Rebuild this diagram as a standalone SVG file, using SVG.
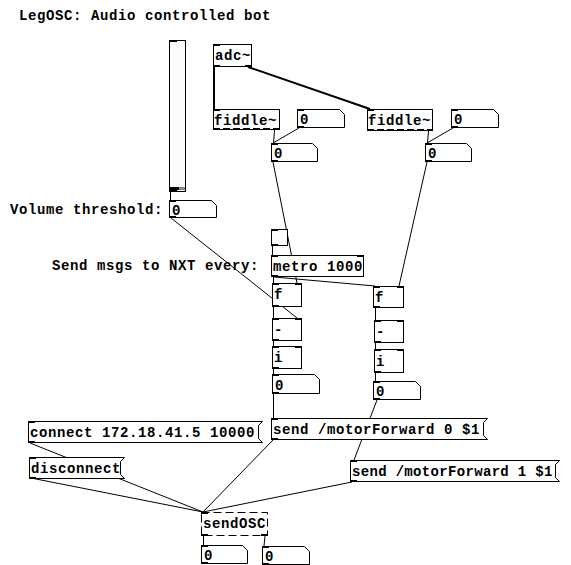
<svg xmlns="http://www.w3.org/2000/svg" width="571" height="565" viewBox="0 0 571 565">
<style>
.t{font-family:"Liberation Mono","DejaVu Sans Mono",monospace;font-weight:bold;font-size:14px;letter-spacing:0.6px;fill:#000}
.b{fill:#fff;stroke:#000;stroke-width:1}
.d{fill:#fff;stroke:#000;stroke-width:1;stroke-dasharray:8,4}
.io{fill:#000}
.c{stroke:#000;stroke-width:1;fill:none}
.s{stroke:#000;stroke-width:2;fill:none}
.fo{stroke:#000;stroke-width:2;stroke-dasharray:7,3;fill:none}
</style>
<rect width="571" height="565" fill="#fff"/>
<g id="connectors">
<line class="s" x1="214" y1="67" x2="214" y2="109"/>
<line class="s" x1="248" y1="67" x2="370" y2="109"/>
<line class="c" x1="274.5" y1="130" x2="273.5" y2="143"/>
<line class="c" x1="299" y1="128" x2="273" y2="143"/>
<line class="c" x1="428.5" y1="131" x2="427.5" y2="143"/>
<line class="c" x1="453" y1="128" x2="427" y2="143"/>
<line class="c" x1="273" y1="162" x2="297" y2="283"/>
<line class="c" x1="427" y1="162" x2="399" y2="286"/>
<line class="c" x1="171" y1="218" x2="297" y2="318"/>
<line class="c" x1="170.5" y1="192" x2="170.5" y2="200"/>
<line class="c" x1="272.5" y1="246" x2="272.5" y2="255"/>
<line class="c" x1="273.5" y1="277" x2="273.5" y2="283"/>
<line class="c" x1="274" y1="277" x2="375" y2="286"/>
<line class="c" x1="273.5" y1="307" x2="273.5" y2="318"/>
<line class="c" x1="273.5" y1="341" x2="273.5" y2="346"/>
<line class="c" x1="273.5" y1="369" x2="273.5" y2="374"/>
<line class="c" x1="273.5" y1="394" x2="273.5" y2="418"/>
<line class="c" x1="375.5" y1="308" x2="375.5" y2="320"/>
<line class="c" x1="375.5" y1="343" x2="375.5" y2="349"/>
<line class="c" x1="375.5" y1="373" x2="375.5" y2="381"/>
<line class="c" x1="377" y1="400" x2="354" y2="460"/>
<line class="c" x1="30" y1="443" x2="203" y2="512"/>
<line class="c" x1="31" y1="478" x2="203" y2="512"/>
<line class="c" x1="273" y1="440" x2="203" y2="512"/>
<line class="c" x1="352" y1="482" x2="203" y2="512"/>
<line class="c" x1="203.5" y1="536" x2="203.5" y2="545"/>
<line class="c" x1="265" y1="536" x2="264" y2="546"/>
</g>
<g id="title"><text class="t" x="19" y="20">LegOSC: Audio controlled bot</text></g>
<g id="slider">
<rect x="169.5" y="40.5" width="16" height="151" fill="#fcfcfc" stroke="#000"/>
<rect class="io" x="169" y="40" width="8" height="2"/>
<rect class="io" x="170" y="187" width="9" height="3"/>
<rect x="179" y="187" width="6" height="3" fill="#888"/>
<rect class="io" x="169" y="190" width="8" height="2"/>
</g>
<g id="vol_label"><text class="t" x="10" y="214">Volume threshold:</text></g>
<g id="vol_num">
<path class="b" d="M169.5 200.5H211.5L216.5 205.5V217.5H169.5Z"/>
<rect class="io" x="169" y="200" width="7" height="2"/><rect class="io" x="169" y="216" width="7" height="2"/>
<text class="t" x="172" y="215">0</text>
</g>
<g id="adc">
<rect class="b" x="213.5" y="44.5" width="38" height="22"/>
<rect class="io" x="213" y="44" width="7" height="2"/>
<rect class="io" x="213" y="65" width="7" height="2"/><rect class="io" x="245" y="65" width="7" height="2"/>
<text class="t" x="215" y="60">adc~</text>
</g>
<g id="fiddle1">
<rect class="b" x="213.5" y="109.5" width="66" height="20"/>
<rect class="io" x="213" y="109" width="7" height="2"/>
<line class="fo" x1="213" y1="129" x2="280" y2="129"/>
<text class="t" x="214" y="125">fiddle~</text>
</g>
<g id="num_f1a">
<path class="b" d="M297.5 109.5H339.5L344.5 114.5V127.5H297.5Z"/>
<rect class="io" x="297" y="109" width="7" height="2"/><rect class="io" x="297" y="126" width="7" height="2"/>
<text class="t" x="300" y="124">0</text>
</g>
<g id="num_f1b">
<path class="b" d="M271.5 143.5H312.5L317.5 148.5V161.5H271.5Z"/>
<rect class="io" x="271" y="143" width="7" height="2"/><rect class="io" x="271" y="160" width="7" height="2"/>
<text class="t" x="274" y="158">0</text>
</g>
<g id="fiddle2">
<rect class="b" x="367.5" y="109.5" width="65" height="21"/>
<rect class="io" x="367" y="109" width="7" height="2"/>
<line class="fo" x1="367" y1="130" x2="433" y2="130"/>
<text class="t" x="368" y="125">fiddle~</text>
</g>
<g id="num_f2a">
<path class="b" d="M451.5 109.5H493.5L498.5 114.5V127.5H451.5Z"/>
<rect class="io" x="451" y="109" width="7" height="2"/><rect class="io" x="451" y="126" width="7" height="2"/>
<text class="t" x="454" y="124">0</text>
</g>
<g id="num_f2b">
<path class="b" d="M425.5 143.5H466.5L471.5 148.5V161.5H425.5Z"/>
<rect class="io" x="425" y="143" width="7" height="2"/><rect class="io" x="425" y="160" width="7" height="2"/>
<text class="t" x="428" y="158">0</text>
</g>
<g id="toggle">
<rect x="271.5" y="229.5" width="16" height="16" fill="#fcfcfc" stroke="#000"/>
<rect class="io" x="271" y="229" width="7" height="2"/><rect class="io" x="271" y="244" width="7" height="2"/>
</g>
<g id="metro_label"><text class="t" x="52" y="270">Send msgs to NXT every:</text></g>
<g id="metro">
<rect class="b" x="271.5" y="255.5" width="92" height="21"/>
<rect class="io" x="271" y="255" width="7" height="2"/><rect class="io" x="357" y="255" width="7" height="2"/>
<rect class="io" x="271" y="275" width="7" height="2"/>
<text class="t" x="273" y="271">metro 1000</text>
</g>
<g id="f1">
<rect class="b" x="272.5" y="283.5" width="29" height="23"/>
<rect class="io" x="272" y="283" width="7" height="2"/><rect class="io" x="295" y="283" width="7" height="2"/>
<rect class="io" x="272" y="305" width="7" height="2"/>
<text class="t" x="274" y="299">f</text>
</g>
<g id="minus1">
<rect class="b" x="272.5" y="318.5" width="29" height="22"/>
<rect class="io" x="272" y="318" width="7" height="2"/><rect class="io" x="295" y="318" width="7" height="2"/>
<rect class="io" x="272" y="339" width="7" height="2"/>
<text class="t" x="274" y="334">-</text>
</g>
<g id="i1">
<rect class="b" x="272.5" y="346.5" width="29" height="22"/>
<rect class="io" x="272" y="346" width="7" height="2"/><rect class="io" x="295" y="346" width="7" height="2"/>
<rect class="io" x="272" y="367" width="7" height="2"/>
<text class="t" x="274" y="362">i</text>
</g>
<g id="num1">
<path class="b" d="M272.5 374.5H314.5L319.5 379.5V393.5H272.5Z"/>
<rect class="io" x="272" y="374" width="7" height="2"/><rect class="io" x="272" y="392" width="7" height="2"/>
<text class="t" x="275" y="390">0</text>
</g>
<g id="f2">
<rect class="b" x="373.5" y="286.5" width="30" height="21"/>
<rect class="io" x="373" y="286" width="7" height="2"/><rect class="io" x="397" y="286" width="7" height="2"/>
<rect class="io" x="373" y="306" width="7" height="2"/>
<text class="t" x="375" y="302">f</text>
</g>
<g id="minus2">
<rect class="b" x="374.5" y="320.5" width="29" height="22"/>
<rect class="io" x="374" y="320" width="7" height="2"/><rect class="io" x="397" y="320" width="7" height="2"/>
<rect class="io" x="374" y="341" width="7" height="2"/>
<text class="t" x="376" y="336">-</text>
</g>
<g id="i2">
<rect class="b" x="374.5" y="349.5" width="29" height="23"/>
<rect class="io" x="374" y="349" width="7" height="2"/><rect class="io" x="397" y="349" width="7" height="2"/>
<rect class="io" x="374" y="371" width="7" height="2"/>
<text class="t" x="376" y="366">i</text>
</g>
<g id="num2">
<path class="b" d="M373.5 381.5H415.5L420.5 386.5V399.5H373.5Z"/>
<rect class="io" x="373" y="381" width="7" height="2"/><rect class="io" x="373" y="398" width="7" height="2"/>
<text class="t" x="376" y="396">0</text>
</g>
<g id="msg_connect">
<path class="b" d="M28.5 421.5H262.5L258.5 425.5V438.5L262.5 442.5H28.5Z"/>
<rect class="io" x="28" y="421" width="7" height="2"/><rect class="io" x="28" y="441" width="7" height="2"/>
<text class="t" x="30" y="437">connect 172.18.41.5 10000</text>
</g>
<g id="msg_disconnect">
<path class="b" d="M29.5 457.5H124.5L120.5 461.5V474.5L124.5 478.5H29.5Z"/>
<rect class="io" x="29" y="457" width="7" height="2"/><rect class="io" x="29" y="477" width="7" height="2"/>
<text class="t" x="31" y="473">disconnect</text>
</g>
<g id="msg_send0">
<path class="b" d="M271.5 418.5H487.5L483.5 422.5V435.5L487.5 439.5H271.5Z"/>
<rect class="io" x="271" y="418" width="7" height="2"/><rect class="io" x="271" y="438" width="7" height="2"/>
<text class="t" x="273" y="434">send /motorForward 0 $1</text>
</g>
<g id="msg_send1">
<path class="b" d="M350.5 460.5H559.5L555.5 464.5V477.5L559.5 481.5H350.5Z"/>
<rect class="io" x="350" y="460" width="7" height="2"/><rect class="io" x="350" y="480" width="7" height="2"/>
<text class="t" x="352" y="476" textLength="201" lengthAdjust="spacing">send /motorForward 1 $1</text>
</g>
<g id="sendOSC">
<rect class="d" x="201.5" y="512.5" width="66" height="23"/>
<rect class="io" x="201" y="512" width="7" height="2"/>
<rect class="io" x="201" y="534" width="7" height="2"/><rect class="io" x="261" y="534" width="7" height="2"/>
<text class="t" x="203" y="528">sendOSC</text>
</g>
<g id="num_o1">
<path class="b" d="M201.5 545.5H242.5L247.5 550.5V563.5H201.5Z"/>
<rect class="io" x="201" y="545" width="7" height="2"/><rect class="io" x="201" y="562" width="7" height="2"/>
<text class="t" x="204" y="560">0</text>
</g>
<g id="num_o2">
<path class="b" d="M262.5 546.5H304.5L309.5 551.5V564.5H262.5Z"/>
<rect class="io" x="262" y="546" width="7" height="2"/><rect class="io" x="262" y="563" width="7" height="2"/>
<text class="t" x="265" y="561">0</text>
</g>
</svg>
